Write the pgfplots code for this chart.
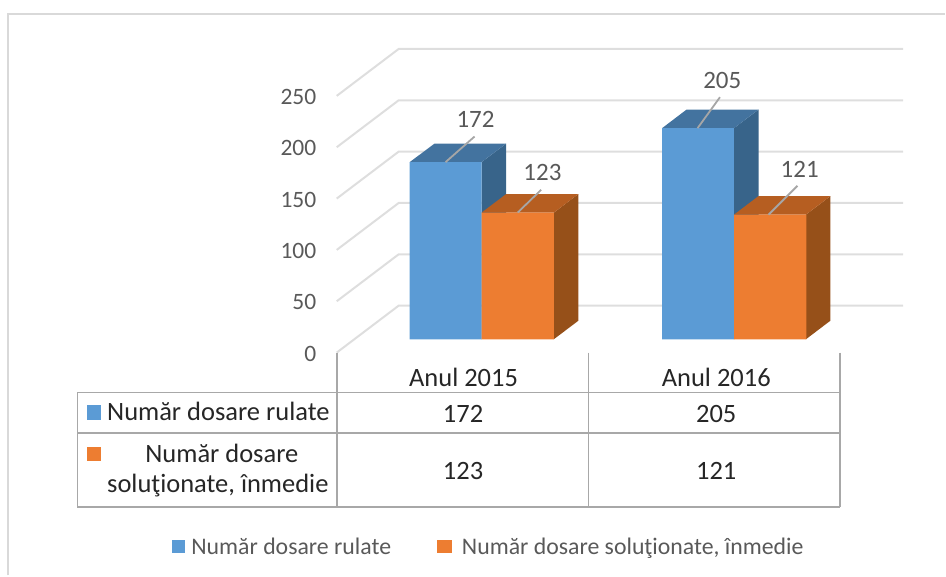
\documentclass[border=0pt]{standalone}
\usepackage{fontspec}
\setmainfont{Carlito}
\usepackage{pgfplots}
\pgfplotsset{compat=1.18}
\definecolor{cblue}{HTML}{5B9BD5}
\definecolor{corange}{HTML}{ED7D31}
\definecolor{tblue}{HTML}{43739F}
\definecolor{sblue}{HTML}{38648A}
\definecolor{torange}{HTML}{B65E21}
\definecolor{sorange}{HTML}{965019}
\definecolor{gridc}{HTML}{DEDEDE}
\definecolor{tablec}{HTML}{A8A8A8}
\definecolor{framec}{HTML}{D9D9D9}
\definecolor{lab}{HTML}{595959}
\definecolor{tabtxt}{HTML}{262626}
\pgfplotsset{base/.style={
  scale only axis, width=946pt, height=576pt, at={(0,0)}, anchor=south west,
  xmin=0, xmax=946, axis line style={draw=none}, major tick length=0pt,
  clip=false, xtick=\empty}}
\begin{document}
\begin{tikzpicture}[x=1pt,y=1pt]
% walls and value axis
\begin{axis}[base, ymin=-216.9, ymax=343.4, ytick={0,50,100,150,200,250},
  /pgf/number format/assume math mode=true,
  yticklabel style={font=\fontsize{23.5}{25}\selectfont, text=lab, anchor=east, xshift=320pt, yshift=-1pt}]
\foreach \v in {0,50,100,150,200,250}{
  \edef\temp{\noexpand\addplot[gridc, line width=2pt, forget plot] coordinates {(337,\v) (399,\v+45.7) (904,\v+45.7)};}
  \temp
}
\end{axis}
% bars
\begin{axis}[base, ymin=-229.2, ymax=329.5, ytick=\empty,
  legend style={at={(axis cs:172,-201.5)}, anchor=west, draw=none, fill=none, inner sep=0pt, outer sep=0pt,
    font=\fontsize{23.8}{25}\selectfont\color{lab}, legend columns=2,
    /tikz/every even column/.append style={column sep=44pt}},
  legend cell align=left]
\addplot[fill=sblue,draw=none,forget plot] coordinates {(482,0)(506.7,18.1)(506.7,190.1)(482,172)} --cycle;
\addplot[fill=tblue,draw=none,forget plot] coordinates {(410,172)(435,190.1)(506.7,190.1)(482,172)} --cycle;
\addplot[fill=sblue,draw=none,forget plot] coordinates {(734.7,0)(759.3,18.1)(759.3,223.1)(734.7,205)} --cycle;
\addplot[fill=tblue,draw=none,forget plot] coordinates {(662.7,205)(687.3,223.1)(759.3,223.1)(734.7,205)} --cycle;
\addplot[ybar, bar width=72, bar shift=-36, fill=cblue, draw=none,
  legend image code/.code={\fill[cblue] (0pt,-6.4pt) rectangle (12.8pt,6.4pt); \path (17.5pt,0pt);}]
  coordinates {(482,172)(734.7,205)};
\addlegendentry{Număr dosare rulate}
\addplot[fill=sorange,draw=none,forget plot] coordinates {(554.3,0)(579,18.1)(579,141.1)(554.3,123)} --cycle;
\addplot[fill=torange,draw=none,forget plot] coordinates {(482,123)(506.7,141.1)(579,141.1)(554.3,123)} --cycle;
\addplot[fill=sorange,draw=none,forget plot] coordinates {(806.7,0)(831.3,18.1)(831.3,139.1)(806.7,121)} --cycle;
\addplot[fill=torange,draw=none,forget plot] coordinates {(734.7,121)(759.3,139.1)(831.3,139.1)(806.7,121)} --cycle;
\addplot[ybar, bar width=72.3, bar shift=36.3, fill=corange, draw=none,
  legend image code/.code={\fill[corange] (0pt,-6.4pt) rectangle (14.5pt,6.4pt); \path (23pt,0pt);}]
  coordinates {(482,123)(734.7,121)};
\addlegendentry{Număr dosare soluţionate, înmedie}
\end{axis}
% pixel-coordinate overlay: frame, leaders, data labels, data table
\begin{axis}[base, ymin=0, ymax=576, y dir=reverse, ytick=\empty]
\addplot[framec, line width=2pt] coordinates {(8,576)(8,14)(946,14)};
\addplot[gray!70, line width=1.8pt] coordinates {(446,162.3)(475,136.7)};
\addplot[gray!70, line width=1.8pt] coordinates {(518.3,212.7)(541.7,190)};
\addplot[gray!70, line width=1.8pt] coordinates {(698.3,128.3)(720.7,97.3)};
\addplot[gray!70, line width=1.8pt] coordinates {(769.3,215)(798.3,186)};
\addplot[tablec, line width=1.5pt] coordinates {(77.3,393)(841,393)};
\addplot[tablec, line width=2pt] coordinates {(77.3,434)(841,434)};
\addplot[tablec, line width=1.5pt] coordinates {(77.3,507.7)(841,507.7)};
\addplot[tablec, line width=1.5pt] coordinates {(77.3,393)(77.3,507.7)};
\addplot[tablec, line width=1.5pt] coordinates {(337.5,353)(337.5,507.7)};
\addplot[tablec, line width=1.5pt] coordinates {(589,353)(589,507.7)};
\addplot[tablec, line width=1.5pt] coordinates {(841,353)(841,507.7)};
\addplot[fill=cblue,draw=none] coordinates {(87,405)(100.7,405)(100.7,420.7)(87,420.7)} --cycle;
\addplot[fill=corange,draw=none] coordinates {(87,447.3)(100.7,447.3)(100.7,461.7)(87,461.7)} --cycle;
\tikzset{dl/.style={font=\fontsize{25}{26}\selectfont, text=lab, inner sep=0pt},
  tb/.style={font=\fontsize{26.5}{28}\selectfont, text=tabtxt, inner sep=0pt}}
\node[dl] at (axis cs:476,120) {172};
\node[dl] at (axis cs:543,173) {123};
\node[dl] at (axis cs:723,81) {205};
\node[dl] at (axis cs:800.5,170) {121};
\node[tb] at (axis cs:464,378) {Anul 2015};
\node[tb] at (axis cs:717,378) {Anul 2016};
\node[tb] at (axis cs:463.5,414) {172};
\node[tb] at (axis cs:717,414) {205};
\node[tb] at (axis cs:463.5,471.5) {123};
\node[tb] at (axis cs:717,471.5) {121};
\node[tb] at (axis cs:218.5,412) {Număr dosare rulate};
\node[tb] at (axis cs:222,454) {Număr dosare};
\node[tb] at (axis cs:218,486) {soluţionate, înmedie};
\end{axis}
\end{tikzpicture}
\end{document}
